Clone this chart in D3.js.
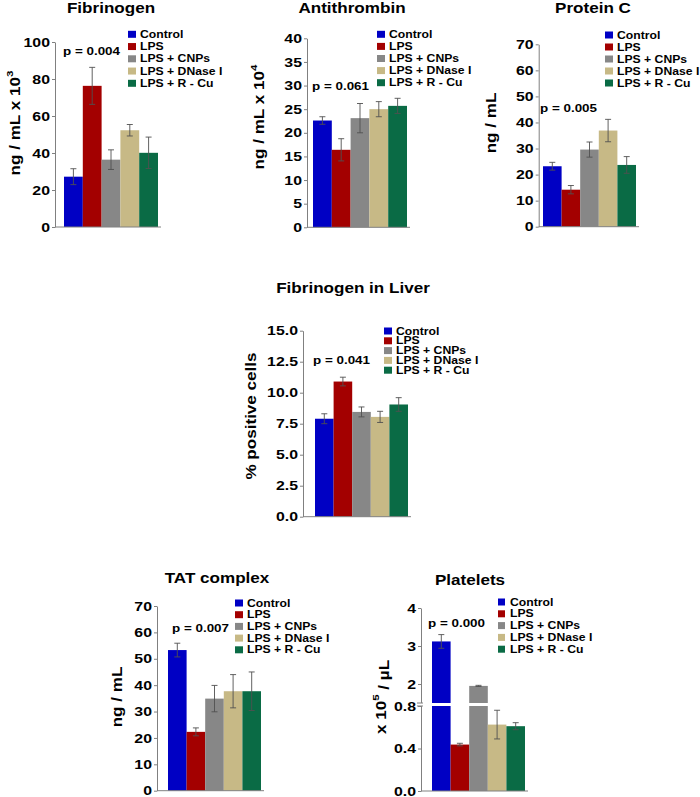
<!DOCTYPE html>
<html><head><meta charset="utf-8">
<script src="https://cdn.jsdelivr.net/npm/d3@7"></script>
<style>
html,body{margin:0;padding:0;background:#fff;}
svg{display:block;}
text{font-family:"Liberation Sans",Arial,sans-serif;font-weight:bold;fill:#000;}
</style></head>
<body><svg id="chart" width="700" height="797"></svg>
<script>
// ---------------- DATA ----------------
const categories = ["Control", "LPS", "LPS + CNPs", "LPS + DNase I", "LPS + R - Cu"];

const fibrinogenMean = [27.2, 76.3, 36.4, 52.3, 40.1];
const fibrinogenErr  = [4.3, 10.0, 5.3, 3.1, 8.5];
const fibrinogenTicks = [0, 20, 40, 60, 80, 100];

const antithrombinMean = [22.6, 16.4, 23.1, 25.0, 25.7];
const antithrombinErr  = [0.8, 2.35, 3.1, 1.6, 1.6];
const antithrombinTicks = [0, 5, 10, 15, 20, 25, 30, 35, 40];

const proteinCMean = [23.2, 14.2, 29.6, 36.9, 23.7];
const proteinCErr  = [1.5, 1.6, 2.9, 4.3, 3.2];
const proteinCTicks = [0, 10, 20, 30, 40, 50, 60, 70];

const liverMean = [7.9, 10.9, 8.45, 8.05, 9.05];
const liverErr  = [0.4, 0.35, 0.4, 0.45, 0.55];
const liverTicks = [0, 2.5, 5, 7.5, 10, 12.5, 15];

const tatMean = [53.3, 22.3, 34.9, 37.7, 37.7];
const tatErr  = [2.6, 1.5, 5.0, 6.3, 7.3];
const tatTicks = [0, 10, 20, 30, 40, 50, 60, 70];

const plateletsMean = [3.12, 0.437, 1.95, 0.625, 0.61];
const plateletsErr  = [0.18, 0.012, 0.015, 0.135, 0.033];
const plateletsTicks = [0, 0.4, 0.8, 2, 3, 4];
const plateletsTickLabels = ["0.0", "0.4", "0.8", "2", "3", "4"];

const pValues = ["p = 0.004", "p = 0.061", "p = 0.005", "p = 0.041", "p = 0.007", "p = 0.000"];

// ---------------- STYLE ----------------
const colors = ["#0000c4", "#a30000", "#878787", "#c7b986", "#0a6b45"];
const SX = 1.22; // glyph width stretch
const axisColor = "#808080";
const errColor = "#505050";

const svg = d3.select("#chart");
svg.append("rect").attr("width", 700).attr("height", 797).attr("fill", "#fff");

function stext(parent, x, y, str, size, anchor, rot) {
  return parent.append("text")
    .attr("transform", `translate(${x},${y})${rot ? ` rotate(${rot})` : ""} scale(${SX},1)`)
    .attr("font-size", size)
    .attr("text-anchor", anchor || "start")
    .text(str);
}

function panel(cfg) {
  const g = svg.append("g");
  const x = d3.scaleBand().domain(categories).range([cfg.x0, cfg.x1]).padding(0);
  const y = cfg.y;
  const means = cfg.mean, errs = cfg.err;

  // bars
  g.selectAll("rect.bar").data(means).join("rect")
    .attr("class", "bar")
    .attr("x", (d, i) => x(categories[i]))
    .attr("width", x.bandwidth())
    .attr("y", d => y(d))
    .attr("height", d => y(0) - y(d))
    .attr("fill", (d, i) => colors[i]);

  if (cfg.breakVals) {
    // white gap for the axis break
    const bTop = y(cfg.breakVals[1]), bBot = y(cfg.breakVals[0]);
    g.selectAll("rect.gap").data(means.filter(d => d > cfg.breakVals[0]).map(d => means.indexOf(d))).join("rect")
      .attr("x", i => x(categories[i]) - 1).attr("width", x.bandwidth() + 2)
      .attr("y", bTop).attr("height", bBot - bTop).attr("fill", "#fff");
  }

  // error bars
  const eb = g.selectAll("g.err").data(means).join("g").attr("class", "err")
    .attr("stroke", errColor).attr("stroke-width", 0.9).attr("fill", "none");
  eb.append("line")
    .attr("x1", (d, i) => x(categories[i]) + x.bandwidth() / 2)
    .attr("x2", (d, i) => x(categories[i]) + x.bandwidth() / 2)
    .attr("y1", (d, i) => y(d + errs[i]))
    .attr("y2", (d, i) => y(d - errs[i]));
  [1, -1].forEach(s => {
    eb.append("line")
      .attr("x1", (d, i) => x(categories[i]) + x.bandwidth() / 2 - 3)
      .attr("x2", (d, i) => x(categories[i]) + x.bandwidth() / 2 + 3)
      .attr("y1", (d, i) => y(d + s * errs[i]))
      .attr("y2", (d, i) => y(d + s * errs[i]));
  });

  // y axis
  const ax = g.append("g").attr("transform", `translate(${cfg.ax},0)`)
    .call(d3.axisLeft(y).tickValues(cfg.ticks).tickFormat((d, i) => cfg.tickLabels[i]).tickSize(3).tickSizeOuter(0));
  ax.select(".domain").attr("stroke", axisColor);
  ax.selectAll(".tick line").attr("stroke", axisColor);
  ax.selectAll(".tick text")
    .attr("x", 0)
    .attr("transform", `translate(-5,0) scale(${SX},1)`)
    .attr("font-size", cfg.tickSize || 13)
    .attr("font-family", null)
    .attr("fill", "#000");

  if (cfg.breakVals) {
    const bTop = y(cfg.breakVals[1]), bBot = y(cfg.breakVals[0]);
    g.append("rect").attr("x", cfg.ax - 1).attr("width", 2).attr("y", bTop).attr("height", bBot - bTop).attr("fill", "#fff");
    [bTop, bBot].forEach(yy => g.append("line").attr("x1", cfg.ax - 4).attr("x2", cfg.ax + 2)
      .attr("y1", yy).attr("y2", yy).attr("stroke", axisColor));
  }

  // bottom axis line
  g.append("line").attr("x1", cfg.ax).attr("x2", cfg.x1 + 3)
    .attr("y1", y(0)).attr("y2", y(0)).attr("stroke", axisColor);

  // title
  stext(g, cfg.title[1], cfg.title[2], cfg.title[0], 14, "middle");
  // p-value
  stext(g, cfg.p[1], cfg.p[2], cfg.p[0], 11, "start");

  // y label
  const yl = stext(g, cfg.ylab.x, cfg.ylab.y, cfg.ylab.text, 14, "middle", -90).attr("dy", "0.35em");
  if (cfg.ylab.sup) {
    yl.append("tspan").attr("font-size", 9.5).attr("dy", "-0.75em").text(cfg.ylab.sup);
    if (cfg.ylab.after) yl.append("tspan").attr("dy", "0.75em").text(cfg.ylab.after);
  }

  // legend
  const lg = g.append("g");
  categories.forEach((c, i) => {
    const yy = cfg.leg.y0 + i * cfg.leg.dy;
    lg.append("rect").attr("x", cfg.leg.x).attr("y", yy - 3.5).attr("width", cfg.leg.w || 8).attr("height", 7)
      .attr("fill", colors[i]);
    stext(lg, cfg.leg.x + 12, yy + 3.6, c, 10, "start");
  });
}

// Fibrinogen
panel({
  mean: fibrinogenMean, err: fibrinogenErr,
  ticks: fibrinogenTicks, tickLabels: fibrinogenTicks.map(String),
  y: d3.scaleLinear().domain([0, 100]).range([227, 42]),
  ax: 55, x0: 64, x1: 158,
  title: ["Fibrinogen", 111, 13], p: [pValues[0], 63, 55],
  ylab: {x: 15, y: 123, text: "ng / mL x 10", sup: "3"},
  leg: {x: 128, y0: 34.3, dy: 12.25}
});

// Antithrombin
panel({
  mean: antithrombinMean, err: antithrombinErr,
  ticks: antithrombinTicks, tickLabels: antithrombinTicks.map(String),
  y: d3.scaleLinear().domain([0, 40]).range([227.3, 38.3]),
  ax: 307, x0: 313, x1: 407,
  title: ["Antithrombin", 352, 13], p: [pValues[1], 312, 90],
  ylab: {x: 259, y: 117, text: "ng / mL x 10", sup: "4"},
  leg: {x: 377, y0: 34.3, dy: 12.1}
});

// Protein C
panel({
  mean: proteinCMean, err: proteinCErr,
  ticks: proteinCTicks, tickLabels: proteinCTicks.map(String),
  y: d3.scaleLinear().domain([0, 70]).range([226.7, 44.3]),
  ax: 538.7, x0: 543, x1: 636,
  title: ["Protein C", 593, 13], p: [pValues[2], 540, 112],
  ylab: {x: 491, y: 123, text: "ng / mL"},
  leg: {x: 605, y0: 35, dy: 12}
});

// Fibrinogen in Liver
panel({
  mean: liverMean, err: liverErr,
  ticks: liverTicks, tickLabels: liverTicks.map(d => d.toFixed(1)),
  y: d3.scaleLinear().domain([0, 15]).range([516.7, 330.7]),
  ax: 303, x0: 315, x1: 408,
  title: ["Fibrinogen in Liver", 353, 293], p: [pValues[3], 313, 364],
  ylab: {x: 251, y: 416, text: "% positive cells"},
  leg: {x: 384, y0: 331, dy: 9.8}
});

// TAT complex
panel({
  mean: tatMean, err: tatErr,
  ticks: tatTicks, tickLabels: tatTicks.map(String),
  y: d3.scaleLinear().domain([0, 70]).range([790.7, 606]),
  ax: 157, x0: 168, x1: 261,
  title: ["TAT complex", 217, 583], p: [pValues[4], 172, 632],
  ylab: {x: 117, y: 697, text: "ng / mL"},
  leg: {x: 235, y0: 603, dy: 11.7}
});

// Platelets (broken axis)
panel({
  mean: plateletsMean, err: plateletsErr,
  ticks: plateletsTicks, tickLabels: plateletsTickLabels,
  y: d3.scaleLinear().domain([0, 0.8, 1.5, 4]).range([791, 706, 703, 608]),
  breakVals: [0.8, 1.5],
  ax: 421, x0: 432, x1: 525,
  title: ["Platelets", 470, 585], p: [pValues[5], 428, 627],
  ylab: {x: 381, y: 697, text: "x 10", sup: "5", after: " / µL"},
  leg: {x: 498, y0: 602, dy: 11.8, w: 7}
});
</script>
</body></html>
